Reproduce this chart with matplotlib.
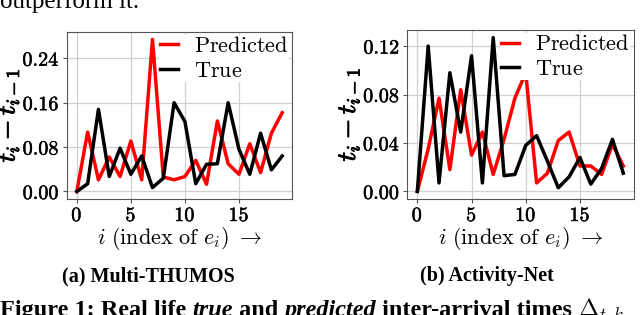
import numpy as np
import matplotlib
matplotlib.use("Agg")
import matplotlib.pyplot as plt
import matplotlib.patheffects as pe
from matplotlib.ticker import FuncFormatter, MultipleLocator
from matplotlib.offsetbox import TextArea, HPacker, AnchoredOffsetbox

plt.rcParams['mathtext.fontset'] = 'cm'
plt.rcParams['axes.unicode_minus'] = False

# event index
idx = list(range(20))

# Multi-THUMOS inter-arrival times
thumos_pred = [0.0, 0.107, 0.021, 0.062, 0.027, 0.091, 0.021, 0.274, 0.026, 0.021,
               0.027, 0.056, 0.013, 0.127, 0.050, 0.031, 0.086, 0.034, 0.105, 0.142]
thumos_true = [0.0, 0.014, 0.148, 0.027, 0.078, 0.031, 0.064, 0.007, 0.024, 0.160,
               0.126, 0.014, 0.049, 0.050, 0.160, 0.076, 0.031, 0.105, 0.039, 0.064]

# Activity-Net inter-arrival times
anet_pred = [0.0, 0.035, 0.077, 0.018, 0.084, 0.030, 0.049, 0.014, 0.043, 0.077,
             0.098, 0.007, 0.015, 0.042, 0.049, 0.021, 0.021, 0.014, 0.039, 0.021]
anet_true = [0.0, 0.120, 0.007, 0.098, 0.049, 0.112, 0.007, 0.127, 0.013, 0.014,
             0.038, 0.046, 0.025, 0.003, 0.012, 0.028, 0.006, 0.019, 0.043, 0.015]

panels = [
    ("(a) Multi-THUMOS", thumos_pred, thumos_true, [0.104, 0.368, 0.353, 0.531], 0.08, 0.232),
    ("(b) Activity-Net", anet_pred, anet_true, [0.636, 0.368, 0.354, 0.537], 0.04, 0.761),
]

fig = plt.figure(figsize=(6.4, 3.15), dpi=100)
thick = [pe.withStroke(linewidth=0.35, foreground='black')]

for title, pred, true, rect, step, cx in panels:
    ax = fig.add_axes(rect)
    ax.plot(idx, pred, color='#ff0000', lw=2.5, label=r'$\mathrm{Predicted}$')
    ax.plot(idx, true, color='black', lw=2.5, label=r'$\mathrm{True}$')
    ax.yaxis.set_major_locator(MultipleLocator(step))
    ax.xaxis.set_major_locator(MultipleLocator(5))
    ax.yaxis.set_major_formatter(FuncFormatter(lambda v, p: r'$\mathbf{%.2f}$' % (0 if abs(v) < 1e-9 else v)))
    ax.xaxis.set_major_formatter(FuncFormatter(lambda v, p: r'$\mathbf{%d}$' % int(round(v))))
    ax.tick_params(labelsize=14.5, color='#555555', length=3, pad=2)
    for lab in ax.get_xticklabels() + ax.get_yticklabels():
        lab.set_path_effects(thick)
    ax.grid(True, color='#d0d0d0', lw=0.9)
    for s in ax.spines.values():
        s.set_color('#555555')
    ax.set_ylabel(r'$t_i - t_{i-1}$', fontsize=19, labelpad=1,
                  path_effects=[pe.withStroke(linewidth=0.7, foreground='black')])
    ax.set_xlabel(r'$i\ \mathrm{(index\ of\ }e_i\mathrm{)}\ \rightarrow$', fontsize=16, labelpad=0)
    leg = ax.legend(loc='upper right', fontsize=16, handlelength=0.8, frameon=True,
                    borderaxespad=0.15, borderpad=0.05, labelspacing=0.2, handletextpad=0.7)
    leg.get_frame().set_facecolor('white')
    leg.get_frame().set_edgecolor('none')
    leg.get_frame().set_alpha(1)
    fig.text(cx, 1 - 281 / 315, title, ha='center', va='baseline',
             family='Liberation Serif', fontweight='bold', fontsize=14.5)

# paper text around the figure
fig.text(0.0, 1 - 8 / 315, "outperform it.", ha='left', va='baseline',
         family='Liberation Serif', fontsize=18)

bold = dict(family='Liberation Serif', fontweight='bold', size=17.5)
parts = [
    TextArea("Figure 1: Real life ", textprops=bold),
    TextArea("true", textprops=dict(bold, style='italic')),
    TextArea(" and ", textprops=bold),
    TextArea("predicted", textprops=dict(bold, style='italic')),
    TextArea(" inter-arrival times ", textprops=bold),
    TextArea(r"$\Delta_{t,k}$", textprops=dict(size=17.5)),
]
box = HPacker(children=parts, align='baseline', pad=0, sep=0)
anch = AnchoredOffsetbox(loc='lower left', child=box, frameon=False, pad=0, borderpad=0,
                         bbox_to_anchor=(0.0, -0.035), bbox_transform=fig.transFigure)
fig.add_artist(anch)

fig.savefig("out.png", dpi=100)
